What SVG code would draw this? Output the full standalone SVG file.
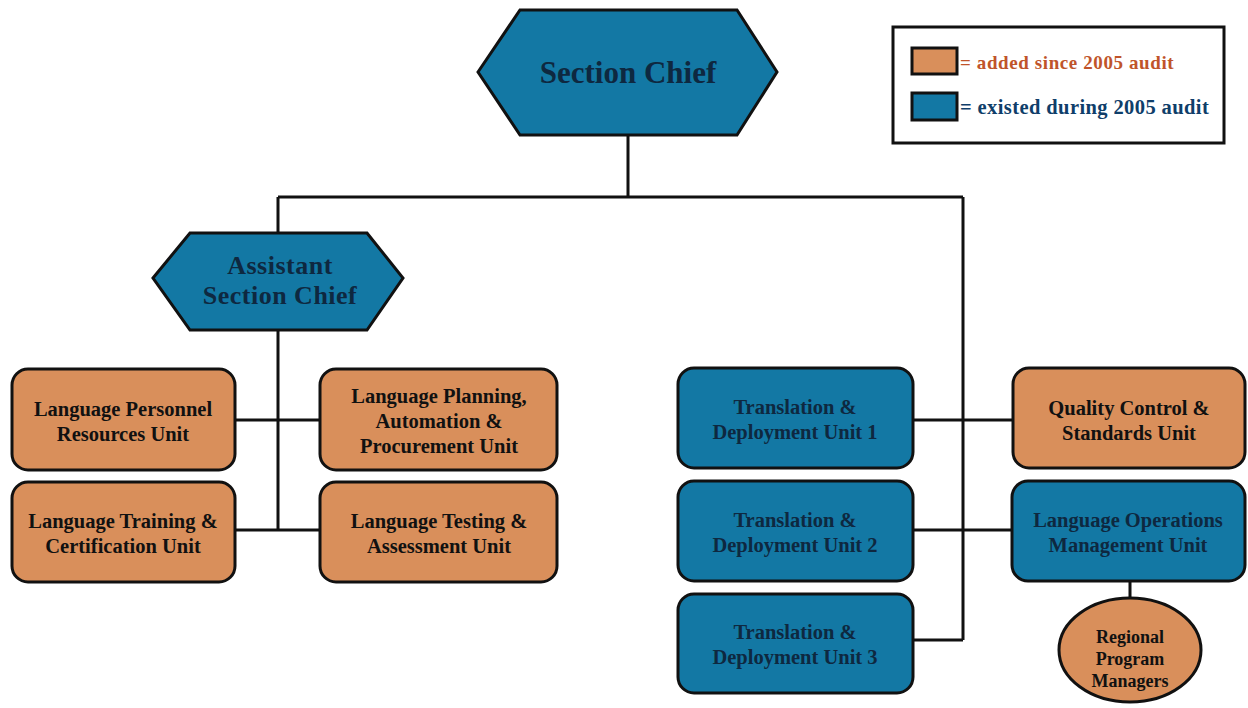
<svg xmlns="http://www.w3.org/2000/svg" width="1248" height="708" viewBox="0 0 1248 708">
<style>
.bg{fill:#ffffff}
.org{fill:#d98f5b;stroke:#111;stroke-width:3}
.blu{fill:#1378a4;stroke:#111;stroke-width:3}
.ln{fill:none;stroke:#111;stroke-width:3}
text{font-family:"Liberation Serif","Times New Roman",serif;font-weight:bold;text-anchor:middle}
.t{font-size:20.5px;fill:#111}
.tb{font-size:20.5px;fill:#0e2840}
.big{font-size:31px;fill:#0e2840}
.mid{font-size:26px;fill:#0e2840;letter-spacing:0.5px}
</style>
<rect class="bg" x="0" y="0" width="1248" height="708"/>
<g id="connectors">
<path class="ln" d="M628 135 V197 M278 197 H963 M278 197 V233 M278 330 V530 M235 420 H320 M235 530 H320 M963 197 V640 M913 420 H1013 M913 530 H1012 M913 640 H963 M1130 581 V598"/>
</g>
<g id="legend">
<rect x="893" y="27" width="331" height="116" fill="#fff" stroke="#111" stroke-width="3"/>
<rect x="912" y="48" width="45" height="26" fill="#d98f5b" stroke="#111" stroke-width="3"/>
<rect x="912" y="93" width="45" height="27" fill="#1378a4" stroke="#111" stroke-width="3"/>
<text x="960" y="69" style="font-size:19px;letter-spacing:0.6px;fill:#c0542a;text-anchor:start">= added since 2005 audit</text>
<text x="960" y="114" style="font-size:20.5px;letter-spacing:0.4px;fill:#0f3e6a;text-anchor:start">= existed during 2005 audit</text>
</g>
<g id="section-chief">
<polygon class="blu" points="478,72 520,10 737,10 777,72 737,135 520,135"/>
<text class="big" x="628" y="83">Section Chief</text>
</g>
<g id="assistant-section-chief">
<polygon class="blu" points="153,278 190,233 367,233 403,278 367,330 190,330"/>
<text class="mid" x="280" y="274">Assistant</text>
<text class="mid" x="280" y="304">Section Chief</text>
</g>
<g id="lang-personnel">
<rect class="org" x="12" y="369" width="223" height="101" rx="16"/>
<text class="t" x="123" y="416">Language Personnel</text>
<text class="t" x="123" y="441">Resources Unit</text>
</g>
<g id="lang-planning">
<rect class="org" x="320" y="369" width="237" height="101" rx="16"/>
<text class="t" x="439" y="403">Language Planning,</text>
<text class="t" x="439" y="428">Automation &amp;</text>
<text class="t" x="439" y="453">Procurement Unit</text>
</g>
<g id="lang-training">
<rect class="org" x="12" y="482" width="223" height="100" rx="16"/>
<text class="t" x="123" y="528">Language Training &amp;</text>
<text class="t" x="123" y="553">Certification Unit</text>
</g>
<g id="lang-testing">
<rect class="org" x="320" y="482" width="237" height="100" rx="16"/>
<text class="t" x="439" y="528">Language Testing &amp;</text>
<text class="t" x="439" y="553">Assessment Unit</text>
</g>
<g id="tdu1">
<rect class="blu" x="678" y="368" width="235" height="100" rx="16"/>
<text class="tb" x="795" y="414">Translation &amp;</text>
<text class="tb" x="795" y="439">Deployment Unit 1</text>
</g>
<g id="tdu2">
<rect class="blu" x="678" y="481" width="235" height="100" rx="16"/>
<text class="tb" x="795" y="527">Translation &amp;</text>
<text class="tb" x="795" y="552">Deployment Unit 2</text>
</g>
<g id="tdu3">
<rect class="blu" x="678" y="594" width="235" height="99" rx="16"/>
<text class="tb" x="795" y="639">Translation &amp;</text>
<text class="tb" x="795" y="664">Deployment Unit 3</text>
</g>
<g id="quality-control">
<rect class="org" x="1013" y="368" width="232" height="100" rx="16"/>
<text class="t" x="1129" y="415">Quality Control &amp;</text>
<text class="t" x="1129" y="440">Standards Unit</text>
</g>
<g id="lang-ops">
<rect class="blu" x="1012" y="481" width="233" height="100" rx="16"/>
<text class="tb" x="1128" y="527">Language Operations</text>
<text class="tb" x="1128" y="552">Management Unit</text>
</g>
<g id="regional">
<ellipse class="org" cx="1130" cy="650" rx="71" ry="52"/>
<text x="1130" y="643" style="font-size:18px;fill:#111">Regional</text>
<text x="1130" y="665" style="font-size:18px;fill:#111">Program</text>
<text x="1130" y="687" style="font-size:18px;fill:#111">Managers</text>
</g>
</svg>
